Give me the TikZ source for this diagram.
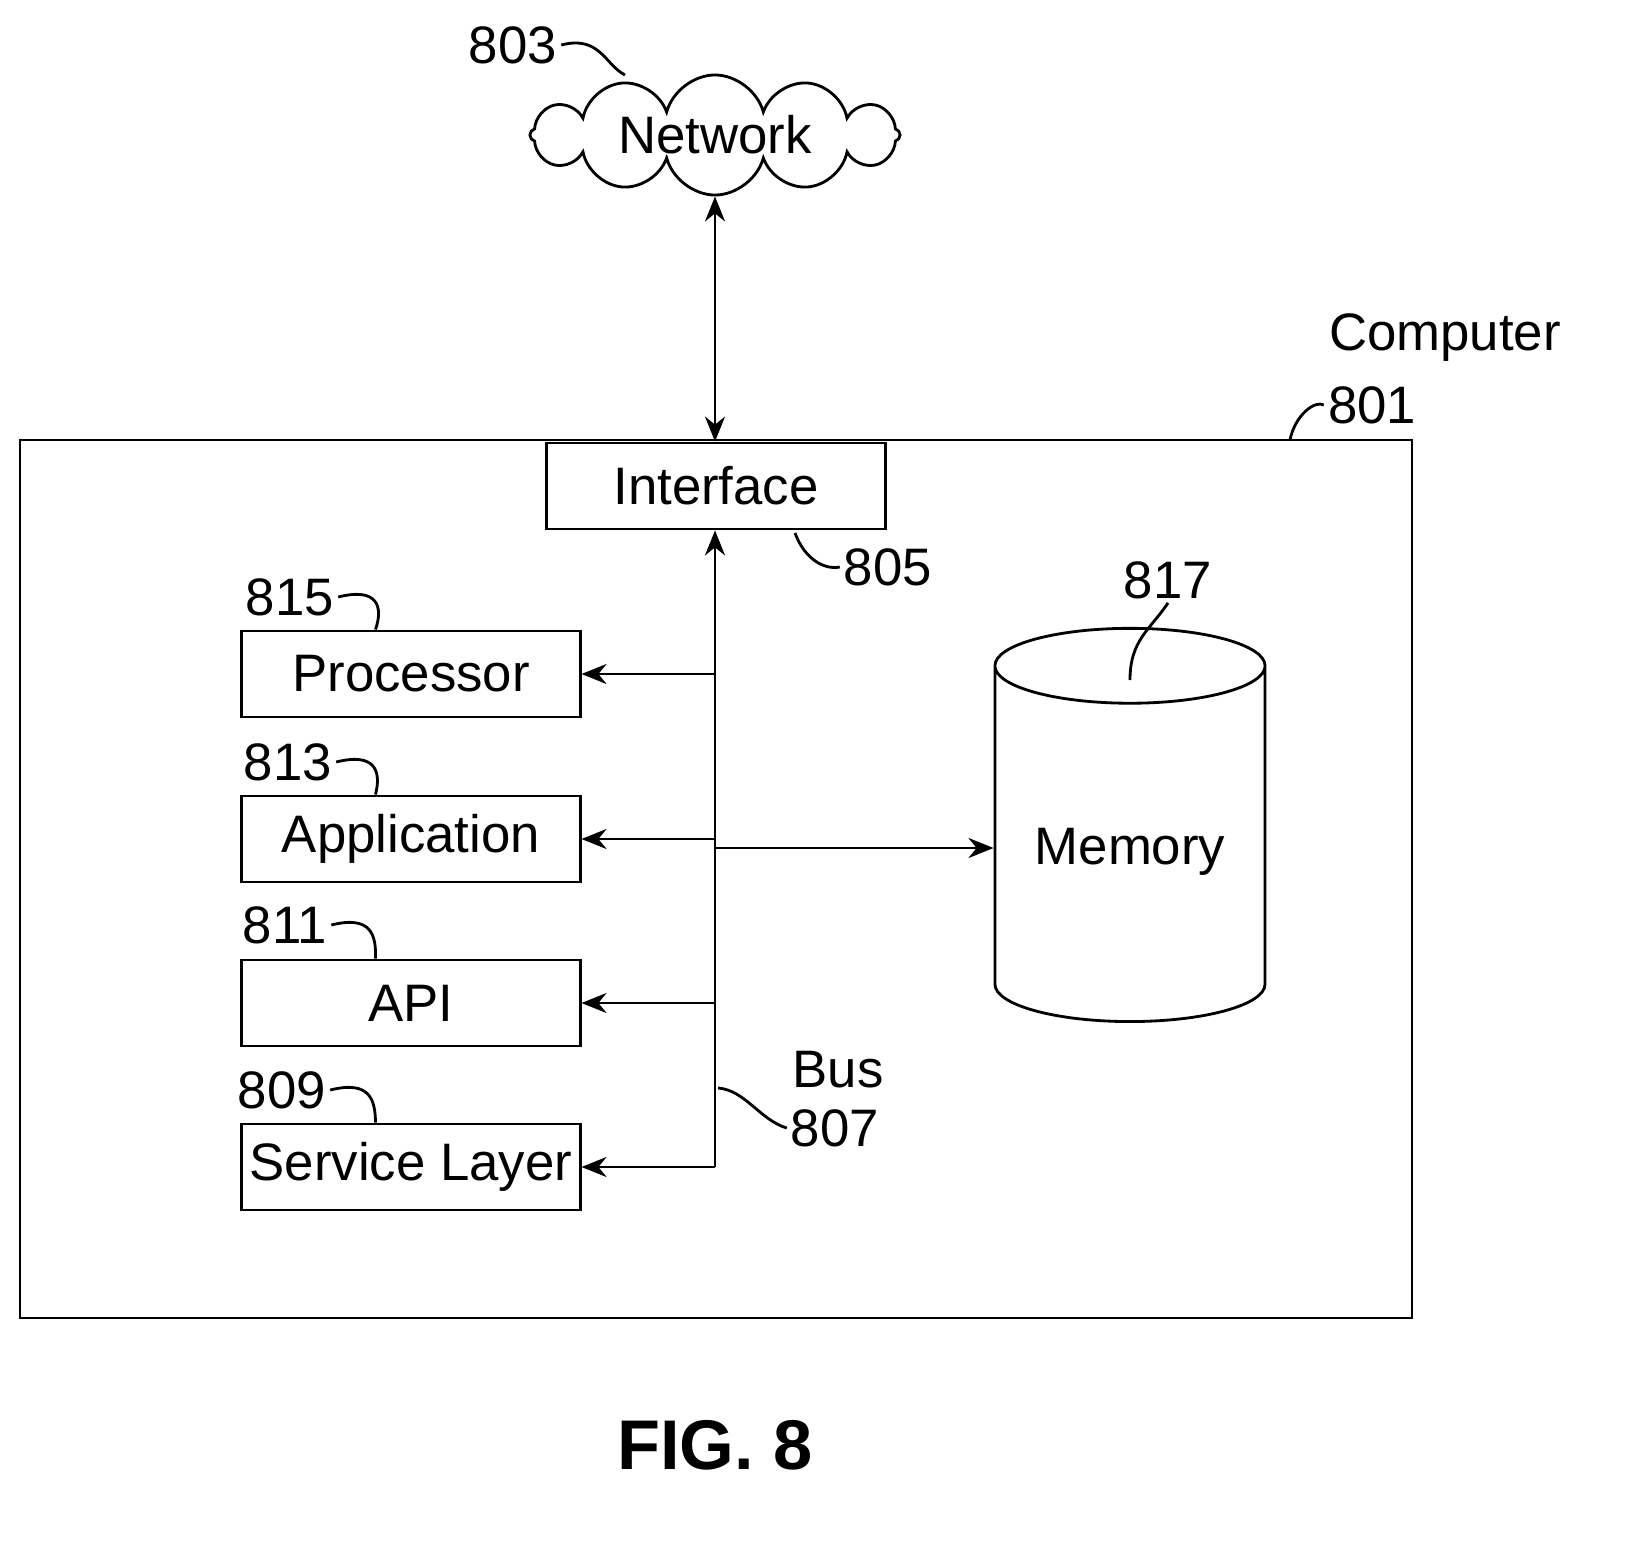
\documentclass[tikz,border=0pt]{standalone}
\usepackage{fontspec}
\setmainfont{Liberation Sans}
\usetikzlibrary{shapes.symbols, shapes.geometric, arrows.meta, positioning, calc}
\tikzset{%
  box/.style={draw, thick, minimum width=3.38cm, minimum height=0.86cm, inner sep=0pt, font=\fontsize{15}{18}\selectfont},
  lbl/.style={font=\fontsize{15}{18}\selectfont, inner sep=1pt},
  link/.style={thick, -{Stealth[length=2.5mm, width=2mm]}},
  lead/.style={thick}
}
\begin{document}
\begin{tikzpicture}[x=0.01cm, y=-0.01cm]
  \useasboundingbox (0,0) rectangle (1629,1548);
  % frame of the computer
  \draw[thick] (20,440) rectangle (1412,1318);
  \node[lbl, anchor=west] (comp) at (1325,338) {Computer};
  \node[lbl] (n801) at (1372,405) {801};
  \draw[lead] (1290,440) .. controls (1295,415) and (1315,400) .. (n801.west);

  % network
  \node[draw, thick, cloud, cloud puffs=12, aspect=3, inner sep=0pt, minimum width=3.7cm, minimum height=1.2cm] (net) at (715,135) {};
  \node[lbl] (nettext) at (net.center) {Network};
  \node[lbl] (n803) at (513,45) {803};
  \draw[lead] (n803.east) .. controls (600,35) and (605,65) .. (625,75);

  % interface
  \node[box] (iface) at (716,486) {Interface};
  \draw[thick, {Stealth[length=2.5mm, width=2mm]}-{Stealth[length=2.5mm, width=2mm]}] (net.south) -- (iface.north -| net.south);
  \node[lbl] (n805) at (888,567) {805};
  \draw[lead] (795,533) .. controls (805,560) and (825,570) .. (n805.west);

  % blocks on the left
  \node[box] (proc) at (411,674) {Processor};
  \node[box] (app) at (411,839) {Application};
  \node[box] (api) at (411,1003) {API};
  \node[box] (serv) at (411,1167) {Service Layer};
  \node[lbl] (n815) at (290,597) {815};
  \node[lbl] (n813) at (288,762) {813};
  \node[lbl] (n811) at (285,925) {811};
  \node[lbl] (n809) at (282,1090) {809};
  \foreach \b/\n in {proc/n815, app/n813, api/n811, serv/n809}
    \draw[lead] (\n.east) .. controls ($(\n.east)+(40,-10)$) and ($(\n.east)+(45,10)$) .. ($(\b.north west)+(135,0)$);

  % bus
  \coordinate (btop) at (715,527);
  \coordinate (bbot) at (715,1167);
  \draw[link] (bbot) -- (iface.south -| bbot);
  \foreach \b in {proc, app, api, serv}
    \draw[link] (\b.east -| bbot) -- (\b.east);
  \node[lbl] (bus) at (838,1070) {Bus};
  \node[lbl] (n807) at (835,1128) {807};
  \draw[lead] (718,1088) .. controls (745,1090) and (760,1120) .. (n807.west);

  % memory
  \node[draw, thick, cylinder, shape border rotate=90, aspect=0.35, minimum width=2.7cm, minimum height=3.93cm, font=\fontsize{15}{18}\selectfont] (mem) at (1130,852) {Memory};
  \coordinate (mtap) at (715,848);
  \draw[link] (mtap) -- (mem.west |- mtap);
  \node[lbl] (n817) at (1168,580) {817};
  \draw[lead] (n817.south) .. controls (1150,630) and (1130,640) .. (1130,680);

  \node[font=\bfseries\fontsize{20}{24}\selectfont] (fig) at (715,1445) {FIG. 8};
\end{tikzpicture}
\end{document}
